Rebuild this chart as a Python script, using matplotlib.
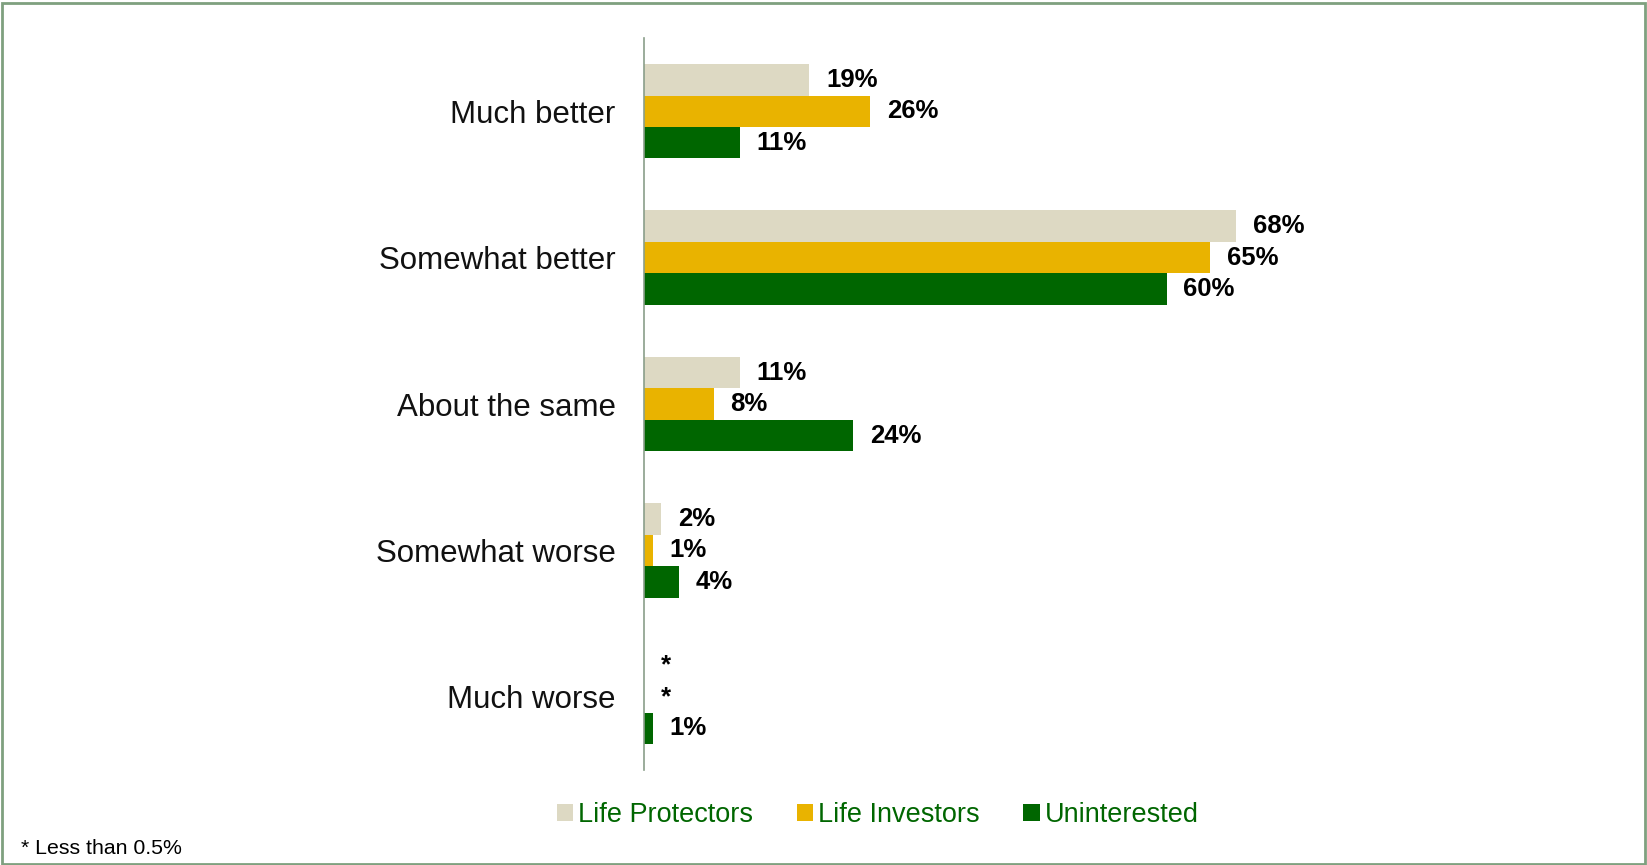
import matplotlib
matplotlib.use('Agg')
import matplotlib.pyplot as plt
from matplotlib.patches import Rectangle
import numpy as np

categories = ["Much better", "Somewhat better", "About the same", "Somewhat worse", "Much worse"]
series = ["Life Protectors", "Life Investors", "Uninterested"]
protectors = [19, 68, 11, 2, 0]
investors = [26, 65, 8, 1, 0]
uninterested = [11, 60, 24, 4, 1]
protectors_lbl = ["19%", "68%", "11%", "2%", "*"]
investors_lbl = ["26%", "65%", "8%", "1%", "*"]
uninterested_lbl = ["11%", "60%", "24%", "4%", "1%"]
colors = ["#DDD9C3", "#E9B300", "#006600"]

plt.rcParams['font.family'] = ['Liberation Sans', 'DejaVu Sans']

fig = plt.figure(figsize=(16.47, 8.65), dpi=100)
ax = fig.add_axes([0.391, 0.1098, 0.5817, 0.8462])

y = np.arange(len(categories))
h = 0.215
values = [protectors, investors, uninterested]
labels = [protectors_lbl, investors_lbl, uninterested_lbl]
for i, (vals, lbls) in enumerate(zip(values, labels)):
    pos = y + (i - 1) * h
    ax.barh(pos, vals, height=h, color=colors[i], label=series[i],
            linewidth=0, edgecolor='none')
    for p, v, t in zip(pos, vals, lbls):
        ax.annotate(t, (v, p), xytext=(12, 0), textcoords='offset points',
                    ha='left', va='center', fontsize=18.5, fontweight='bold',
                    color='black')

ax.set_xlim(0, 110)
ax.set_ylim(len(categories) - 0.5, -0.5)
ax.set_yticks(y)
ax.set_yticklabels(categories, fontsize=22.5, color='#111111')
ax.tick_params(axis='y', length=0, pad=20.5)
ax.set_xticks([])
for s in ['top', 'right', 'bottom']:
    ax.spines[s].set_visible(False)
ax.spines['left'].set_color('#8A9E8A')
ax.spines['left'].set_linewidth(1.2)

leg = fig.legend(loc='center', bbox_to_anchor=(0.533, 0.0574), ncol=3, frameon=False,
                 fontsize=19.5, handlelength=0.6, handleheight=0.6,
                 handletextpad=0.2, columnspacing=1.6)
for t in leg.get_texts():
    t.set_color('#006600')

fig.text(0.0128, 0.0196, "* Less than 0.5%", fontsize=15.3, ha='left', va='center')

fig.patches.append(Rectangle((0.001, 0.001), 0.998, 0.996, transform=fig.transFigure,
                             fill=False, edgecolor='#7FA07F', linewidth=2))

plt.savefig('out.png', dpi=100)
